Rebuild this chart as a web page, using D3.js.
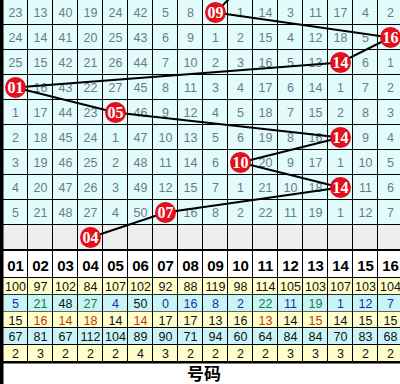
<!DOCTYPE html>
<html><head><meta charset="utf-8">
<script src="https://cdn.jsdelivr.net/npm/d3@7"></script>
<style>body{margin:0;background:#fff;}svg{display:block;}</style>
</head><body>
<script>
const columns = ["01","02","03","04","05","06","07","08","09","10","11","12","13","14","15","16"];
// missing-count grid (0 = drawn number in that row)
const missRows = [
  [23,13,40,19,24,42,5,8,0,1,14,3,11,17,4,2],
  [24,14,41,20,25,43,6,9,1,2,15,4,12,18,5,0],
  [25,15,42,21,26,44,7,10,2,3,16,5,13,0,6,1],
  [0,16,43,22,27,45,8,11,3,4,17,6,14,1,7,2],
  [1,17,44,23,0,46,9,12,4,5,18,7,15,2,8,3],
  [2,18,45,24,1,47,10,13,5,6,19,8,16,0,9,4],
  [3,19,46,25,2,48,11,14,6,0,20,9,17,1,10,5],
  [4,20,47,26,3,49,12,15,7,1,21,10,18,0,11,6],
  [5,21,48,27,4,50,0,16,8,2,22,11,19,1,12,7]
];
const previousHit = "10";
const hits = ["09","16","14","01","05","14","10","14","07","04"];
const statTotal   = [100,97,102,84,107,102,92,88,119,98,114,105,103,107,103,104];
const statCurrent = [5,21,48,27,4,50,0,16,8,2,22,11,19,1,12,7];
const statCurrentLevel = ["low","mid","high","mid","low","high","low","low","low","low","mid","low","mid","low","low","low"];
const statAvg     = [15,16,14,18,14,14,17,17,13,16,13,14,15,14,15,15];
const statAvgFlag = [0,1,1,1,0,1,0,0,0,0,1,0,1,0,0,0];
const statMax     = [67,81,67,112,104,89,90,71,94,60,64,84,84,70,83,68];
const statRepeat  = [2,3,2,2,2,4,3,2,2,2,2,3,3,3,2,2];
const footerLabel = "号码";

const W = 400, H = 384;
const svg = d3.select("body").append("svg").attr("width", W).attr("height", H);

const x = d3.scaleBand().domain(columns).range([3, 403]);
const y = d3.scaleBand().domain(d3.range(10)).range([0, 250]);

// grid cells
const gridG = svg.append("g");
for (let r = 0; r < 10; r++) {
  columns.forEach((c, ci) => {
    gridG.append("rect").attr("x", x(c)).attr("y", y(r)).attr("width", x.bandwidth()).attr("height", y.bandwidth())
      .attr("fill", r < 9 ? "#e2fcfc" : "#eeeeee");
    if (r < 9 && missRows[r][ci] > 0) {
      gridG.append("text").attr("x", x(c) + x.bandwidth()/2).attr("y", y(r) + y.bandwidth()/2 + 4.5)
        .attr("text-anchor", "middle").attr("font-family", "Liberation Sans, Arial, sans-serif")
        .attr("font-size", 12.5).attr("fill", "#6a7a8a").text(missRows[r][ci]);
    }
  });
}
// grid lines
for (let i = 1; i <= 16; i++) {
  const xx = Math.round(3 + i * x.bandwidth()) - 0.5;
  gridG.append("line").attr("x1", xx).attr("x2", xx).attr("y1", 0).attr("y2", 250).attr("stroke", "#000").attr("stroke-width", 1);
}
for (let r = 1; r < 10; r++) {
  const yy = y(r) - 0.5;
  gridG.append("line").attr("x1", 3).attr("x2", W).attr("y1", yy).attr("y2", yy).attr("stroke", "#000").attr("stroke-width", 1);
}

// trend line
const pts = [[previousHit, -1]].concat(hits.map((h, i) => [h, i]));
const cx = c => x(c) + x.bandwidth()/2;
const cy = r => r * y.step() + y.bandwidth()/2;
svg.append("clipPath").attr("id", "gclip").append("rect").attr("x", 0).attr("y", 0).attr("width", W).attr("height", 250);
svg.append("path").attr("clip-path", "url(#gclip)")
  .attr("d", d3.line().x(d => cx(d[0])).y(d => cy(d[1]))(pts))
  .attr("fill", "none").attr("stroke", "#000").attr("stroke-width", 2);

// balls
const balls = svg.append("g").selectAll("g").data(hits.map((h, i) => [h, i])).join("g")
  .attr("transform", d => `translate(${cx(d[0])},${cy(d[1])})`);
balls.append("circle").attr("r", 10.5).attr("fill", "#e3101b");
balls.append("text").attr("text-anchor", "middle").attr("y", 5.5)
  .attr("font-family", "Liberation Serif, serif").attr("font-weight", "bold").attr("font-size", 16)
  .attr("fill", "#fff").text(d => d[0]);

// stats table
const tHeadTop = 251, tHeadBot = 278, rowH = 16.8;
const tbl = svg.append("g");
tbl.append("rect").attr("x", 3).attr("y", tHeadTop).attr("width", 400).attr("height", tHeadBot - tHeadTop).attr("fill", "#fff");
columns.forEach(c => {
  tbl.append("text").attr("x", x(c) + x.bandwidth()/2).attr("y", 270.5).attr("text-anchor", "middle")
    .attr("font-family", "Liberation Sans, Arial, sans-serif").attr("font-weight", "bold").attr("font-size", 15)
    .attr("fill", "#000").text(c);
});
const levelColor = {low: "#1c2ea0", mid: "#11803a", high: "#111"};
const statRows = [
  {vals: statTotal, bg: "#ffffcc", col: () => "#111"},
  {vals: statCurrent, bg: "#c8f4f8", col: i => levelColor[statCurrentLevel[i]]},
  {vals: statAvg, bg: "#ffffcc", col: i => statAvgFlag[i] ? "#c0380c" : "#111"},
  {vals: statMax, bg: "#c8f4f8", col: () => "#111"},
  {vals: statRepeat, bg: "#ffffcc", col: () => "#111"}
];
statRows.forEach((row, ri) => {
  const top = tHeadBot + ri * rowH;
  tbl.append("rect").attr("x", 3).attr("y", top).attr("width", 400).attr("height", rowH).attr("fill", row.bg);
  row.vals.forEach((v, i) => {
    tbl.append("text").attr("x", x(columns[i]) + x.bandwidth()/2).attr("y", top + rowH/2 + 4.5)
      .attr("text-anchor", "middle").attr("font-family", "Liberation Sans, Arial, sans-serif")
      .attr("font-size", 12.5).attr("fill", row.col(i)).text(v);
  });
  tbl.append("line").attr("x1", 3).attr("x2", W).attr("y1", Math.round(top + rowH) - 0.5).attr("y2", Math.round(top + rowH) - 0.5)
    .attr("stroke", "#000");
});
const tBot = tHeadBot + 5 * rowH;
for (let i = 1; i <= 16; i++) {
  const xx = Math.round(3 + i * x.bandwidth()) - 0.5;
  tbl.append("line").attr("x1", xx).attr("x2", xx).attr("y1", tHeadTop).attr("y2", tBot).attr("stroke", "#000");
}
tbl.append("line").attr("x1", 3).attr("x2", W).attr("y1", tHeadBot - 0.5).attr("y2", tHeadBot - 0.5).attr("stroke", "#000");
tbl.append("rect").attr("x", 3).attr("y", 249).attr("width", 400).attr("height", 2).attr("fill", "#000");
tbl.append("rect").attr("x", 3).attr("y", tBot - 0.5).attr("width", 400).attr("height", 2).attr("fill", "#000");
// left thick border
svg.append("rect").attr("x", 0).attr("y", 0).attr("width", 3.5).attr("height", H).attr("fill", "#000");
// footer label
svg.append("text").attr("x", 204).attr("y", 380).attr("text-anchor", "middle")
  .attr("font-family", "Noto Sans CJK SC, sans-serif").attr("font-weight", "bold").attr("font-size", 17)
  .attr("fill", "#000").text(footerLabel);
</script>
</body></html>
